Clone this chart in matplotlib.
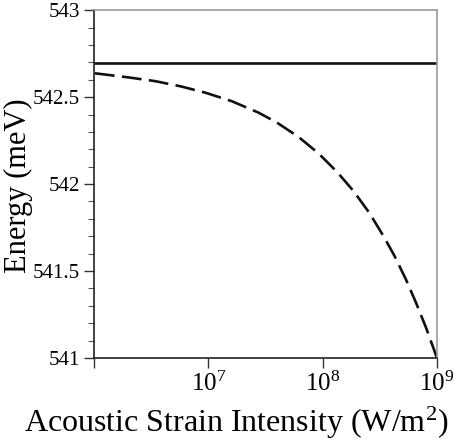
import matplotlib
matplotlib.use("Agg")
import matplotlib.pyplot as plt
from matplotlib.ticker import FixedLocator, NullLocator

plt.rcParams['font.family'] = ['Liberation Serif', 'DejaVu Serif']
plt.rcParams['mathtext.fontset'] = 'custom'
plt.rcParams['mathtext.rm'] = 'Liberation Serif'
plt.rcParams['mathtext.it'] = 'Liberation Serif:italic'

# intensity in W/m^2 and the two energy levels in meV
intensity = [1.02e6, 1.25e6, 2.03e6, 3.43e6, 5.75e6, 9.5e6, 1.6e7, 2.75e7,
             4.0e7, 6.17e7, 9.27e7, 1.33e8, 1.86e8, 2.57e8, 3.44e8,
             4.26e8, 5.36e8, 6.56e8, 8.02e8, 9.51e8, 1.0e9]
energy_shifted = [542.637, 542.630, 542.613, 542.592, 542.562, 542.525,
                  542.477, 542.411, 542.353, 542.271, 542.175, 542.072,
                  541.961, 541.834, 541.697, 541.587, 541.452, 541.319,
                  541.176, 541.042, 541.0]
energy_flat = [542.695, 542.695]
flat_range = [1e6, 1e9]

xticks = [1e6, 1e7, 1e8, 1e9]
xtick_labels = ['', r'$10^{7}$', r'$10^{8}$', r'$10^{9}$']
yticks = [541, 541.5, 542, 542.5, 543]
ytick_labels = ['541', '541.5', '542', '542.5', '543']
yminor = [541.1, 541.2, 541.3, 541.4, 541.6, 541.7, 541.8, 541.9,
          542.1, 542.2, 542.3, 542.4, 542.6, 542.7, 542.8, 542.9]

fig = plt.figure(figsize=(4.56, 4.43), dpi=100)
ax = fig.add_axes([0.206, 0.192, 0.752, 0.785])

ax.plot(flat_range, energy_flat, color='#111111', linewidth=1.9, solid_capstyle='butt')
ax.plot(intensity, energy_shifted, color='#111111', linewidth=1.9,
        dashes=(7.5, 2.8), dash_capstyle='butt')

ax.set_xscale('log')
ax.set_xlim(1e6, 1e9)
ax.set_ylim(541, 543)
ax.xaxis.set_major_locator(FixedLocator(xticks))
ax.set_xticklabels(xtick_labels)
ax.xaxis.set_minor_locator(NullLocator())
ax.yaxis.set_major_locator(FixedLocator(yticks))
ax.set_yticklabels(ytick_labels)
ax.yaxis.set_minor_locator(FixedLocator(yminor))

ax.tick_params(axis='both', which='major', direction='out', length=7, width=1,
               labelsize=15, color='#333333')
ax.tick_params(axis='x', labelsize=18, pad=3)
ax.tick_params(axis='y', pad=3)
ax.tick_params(axis='y', which='minor', direction='out', length=4, width=0.8,
               color='#555555')

for side in ['top', 'right']:
    ax.spines[side].set_color('#999999')
    ax.spines[side].set_linewidth(1.2)
for side in ['left', 'bottom']:
    ax.spines[side].set_color('#222222')
    ax.spines[side].set_linewidth(1.2)

ax.set_xlabel(r'Acoustic Strain Intensity (W/m$^{2}$)', fontsize=23)
ax.xaxis.set_label_coords(0.415, -0.187)
ax.xaxis.label.set_va('center')
ax.set_ylabel('Energy (meV)', fontsize=22)
ax.yaxis.set_label_coords(-0.219, 0.494)
ax.yaxis.label.set_va('center')

fig.savefig('out.png', dpi=100)
